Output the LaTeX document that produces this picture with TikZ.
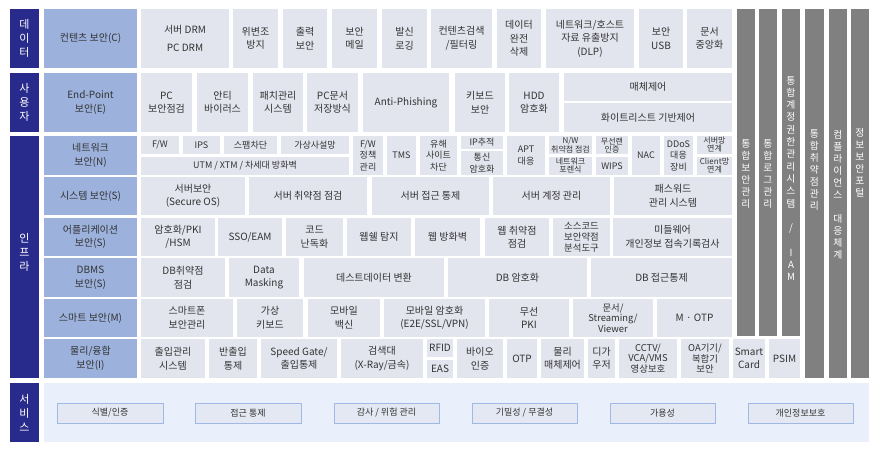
\documentclass[tikz,border=0pt]{standalone}
\usepackage{fontspec}
\setmainfont{Noto Sans CJK KR}
\definecolor{cNavy}{RGB}{41,43,140}
\definecolor{cCat}{RGB}{156,178,220}
\definecolor{cGray}{RGB}{227,229,238}
\definecolor{cCol}{RGB}{128,128,128}
\definecolor{cSvc}{RGB}{233,239,251}
\definecolor{cBtn}{RGB}{228,232,242}
\definecolor{cBtnLine}{RGB}{160,184,228}
\definecolor{cTxt}{RGB}{51,51,51}
\newcommand\fzA{\fontsize{10}{13.5}\selectfont}
\newcommand\fzN{\fontsize{9}{11.5}\selectfont}
\newcommand\fzT{\fontsize{8}{8}\selectfont}
\newcommand\fzC{\fontsize{9.4}{10.8}\selectfont}
\newcommand\fzS{\fontsize{11}{14}\selectfont}
\newcommand\fzV{\fontsize{9.8}{12}\selectfont}
\newcommand\fzB{\fontsize{9}{11}\selectfont}
\newcommand\bx[7]{\node[#1,minimum width={(#5)-(#3)},minimum height={(#6)-(#4)}] (#2) at ({((#3)+(#5))/2},{((#4)+(#6))/2}) {#7};}
\tikzset{
  base/.style={draw=none,inner sep=0pt,outer sep=0pt,align=center,text=cTxt,font=\fzA},
  gbox/.style={base,fill=cGray},
  nbox/.style={base,fill=cGray,font=\fzN},
  tbox/.style={base,fill=cGray,font=\fzT},
  catbox/.style={base,fill=cCat},
  sidebox/.style={base,fill=cNavy,text=white,font=\fzS},
  colbox/.style={base,fill=cCol},
  vlabel/.style={inner sep=0pt,align=center,text=white,font=\fzV},
  svcbg/.style={base,fill=cSvc},
  btn/.style={base,fill=cBtn,draw=cBtnLine,line width=0.8pt,font=\fzB},
}
\begin{document}
\begin{tikzpicture}[x=1pt,y=-1pt]
\useasboundingbox (0,0) rectangle (879,452);
\fill[white] (0,0) rectangle (879,452);
% side labels
\bx{sidebox}{sData}{10}{9}{39}{68}{데\\이\\터}
\bx{sidebox}{sUser}{10}{73}{39}{132}{사\\용\\자}
\bx{sidebox}{sInfra}{10}{136}{39}{378}{}
\node[vlabel,font=\fzS] (tInfra) at (24.5,252) {인\\프\\라};
\bx{sidebox}{sSvc}{10}{383}{39}{442}{서\\비\\스}
% categories
\bx{catbox}{cC}{44}{9}{137}{68}{컨텐츠 보안(C)}
\bx{catbox}{cE}{44}{73}{137}{132}{End-Point\\보안(E)}
\bx{catbox}{cN}{44}{136}{137}{175}{네트워크\\보안(N)}
\bx{catbox}{cS}{44}{177}{137}{215}{시스템 보안(S)}
\bx{catbox}{cA}{44}{218}{137}{256}{어플리케이션\\보안(S)}
\bx{catbox}{cD}{44}{258}{137}{297}{DBMS\\보안(S)}
\bx{catbox}{cM}{44}{299}{137}{337}{스마트 보안(M)}
\bx{catbox}{cI}{44}{339}{137}{378}{물리/융합\\보안(I)}
% row data
\bx{gbox}{d1}{141}{9}{229}{68}{서버 DRM\\[5pt]PC DRM}
\bx{gbox}{d2}{233}{9}{278}{68}{위변조\\방지}
\bx{gbox}{d3}{283}{9}{327}{68}{출력\\보안}
\bx{gbox}{d4}{332}{9}{377}{68}{보안\\메일}
\bx{gbox}{d5}{382}{9}{427}{68}{발신\\로깅}
\bx{gbox}{d6}{431}{9}{492}{68}{컨텐츠검색\\/필터링}
\bx{gbox}{d7}{497}{9}{541}{68}{데이터\\완전\\삭제}
\bx{gbox}{d8}{546}{9}{634}{68}{네트워크/호스트\\자료 유출방지\\(DLP)}
\bx{gbox}{d9}{639}{9}{683}{68}{보안\\USB}
\bx{gbox}{d10}{687}{9}{732}{68}{문서\\중앙화}
% row user
\bx{gbox}{u1}{141}{73}{192}{132}{PC\\보안점검}
\bx{gbox}{u2}{197}{73}{248}{132}{안티\\바이러스}
\bx{gbox}{u3}{253}{73}{303}{132}{패치관리\\시스템}
\bx{gbox}{u4}{307}{73}{358}{132}{PC문서\\저장방식}
\bx{gbox}{u5}{363}{73}{449}{132}{Anti-Phishing}
\bx{gbox}{u6}{455}{73}{505}{132}{키보드\\보안}
\bx{gbox}{u7}{509}{73}{559}{132}{HDD\\암호화}
\bx{gbox}{u8}{564}{73}{732}{101}{매체제어}
\bx{gbox}{u9}{564}{103}{732}{132}{화이트리스트 기반제어}
% row network
\bx{nbox}{n1}{141}{136}{179}{154}{F/W}
\bx{nbox}{n2}{183}{136}{220}{154}{IPS}
\bx{nbox}{n3}{224}{136}{277}{154}{스팸차단}
\bx{nbox}{n4}{281}{136}{349}{154}{가상사설망}
\bx{nbox}{n5}{141}{157}{349}{175}{UTM / XTM / 차세대 방화벽}
\bx{nbox}{n6}{353}{136}{383}{175}{F/W\\정책\\관리}
\bx{nbox}{n7}{387}{136}{416}{175}{TMS}
\bx{nbox}{n8}{420}{136}{457}{175}{유해\\사이트\\차단}
\bx{nbox}{n9}{461}{136}{503}{149}{IP추적}
\bx{nbox}{n10}{461}{151}{503}{175}{통신\\암호화}
\bx{nbox}{n11}{507}{136}{545}{175}{APT\\대응}
\bx{tbox}{n12}{549}{136}{592}{154}{N/W\\취약점 점검}
\bx{tbox}{n13}{549}{157}{592}{175}{네트워크\\포렌식}
\bx{tbox}{n14}{596}{136}{628}{154}{무선랜\\인증}
\bx{nbox}{n15}{596}{157}{628}{175}{WIPS}
\bx{nbox}{n16}{632}{136}{660}{175}{NAC}
\bx{nbox}{n17}{664}{136}{693}{175}{DDoS\\대응\\장비}
\bx{tbox}{n18}{697}{136}{732}{154}{서버망\\연계}
\bx{tbox}{n19}{697}{157}{732}{175}{Client망\\연계}
% row system
\bx{gbox}{s1}{141}{177}{245}{215}{서버보안\\(Secure OS)}
\bx{gbox}{s2}{249}{177}{367}{215}{서버 취약점 점검}
\bx{gbox}{s3}{372}{177}{489}{215}{서버 접근 통제}
\bx{gbox}{s4}{493}{177}{610}{215}{서버 계정 관리}
\bx{gbox}{s5}{614}{177}{732}{215}{패스워드\\관리 시스템}
% row application
\bx{gbox}{a1}{141}{218}{215}{256}{암호화/PKI\\/HSM}
\bx{gbox}{a2}{218}{218}{282}{256}{SSO/EAM}
\bx{gbox}{a3}{286}{218}{343}{256}{코드\\난독화}
\bx{gbox}{a4}{347}{218}{411}{256}{웹쉘 탐지}
\bx{gbox}{a5}{415}{218}{480}{256}{웹 방화벽}
\bx{gbox}{a6}{485}{218}{549}{256}{웹 취약점\\점검}
\bx{gbox,font=\fzC}{a7}{553}{218}{610}{256}{소스코드\\보안약점\\분석도구}
\bx{gbox}{a8}{613}{218}{732}{256}{미들웨어\\개인정보 접속기록검사}
% row dbms
\bx{gbox}{b1}{141}{258}{225}{297}{DB취약점\\점검}
\bx{gbox}{b2}{229}{258}{299}{297}{Data\\Masking}
\bx{gbox}{b3}{304}{258}{444}{297}{데스트데이터 변환}
\bx{gbox}{b4}{448}{258}{587}{297}{DB 암호화}
\bx{gbox}{b5}{591}{258}{732}{297}{DB 접근통제}
% row smart
\bx{gbox}{m1}{141}{299}{233}{337}{스마트폰\\보안관리}
\bx{gbox}{m2}{237}{299}{303}{337}{가상\\키보드}
\bx{gbox}{m3}{308}{299}{380}{337}{모바일\\백신}
\bx{gbox}{m4}{384}{299}{485}{337}{모바일 암호화\\(E2E/SSL/VPN)}
\bx{gbox}{m5}{489}{299}{569}{337}{무선\\PKI}
\bx{gbox,font=\fzC}{m6}{573}{299}{653}{337}{문서/\\Streaming/\\Viewer}
\bx{gbox}{m7}{657}{299}{732}{337}{M · OTP}
% row physical
\bx{gbox}{i1}{141}{339}{205}{378}{출입관리\\시스템}
\bx{gbox}{i2}{209}{339}{257}{378}{반출입\\통제}
\bx{gbox}{i3}{261}{339}{337}{378}{Speed Gate/\\출입통제}
\bx{gbox}{i4}{341}{339}{423}{378}{검색대\\(X-Ray/금속)}
\bx{gbox}{i5}{427}{339}{453}{357}{RFID}
\bx{gbox}{i6}{427}{360}{453}{378}{EAS}
\bx{gbox}{i7}{457}{339}{503}{378}{바이오\\인증}
\bx{gbox}{i8}{507}{339}{537}{378}{OTP}
\bx{gbox}{i9}{541}{339}{584}{378}{물리\\매체제어}
\bx{gbox}{i10}{588}{339}{615}{378}{디가\\우저}
\bx{gbox,font=\fzC}{i11}{619}{339}{677}{378}{CCTV/\\VCA/VMS\\영상보호}
\bx{gbox,font=\fzC}{i12}{681}{339}{729}{378}{OA기기/\\복합기\\보안}
\bx{gbox}{i13}{733}{339}{765}{378}{Smart\\Card}
\bx{gbox}{i14}{769}{339}{800}{378}{PSIM}
% dark columns
\bx{colbox}{k1}{737}{9}{755}{336}{}
\bx{colbox}{k2}{759}{9}{777}{336}{}
\bx{colbox}{k3}{782}{9}{800}{336}{}
\bx{colbox}{k4}{805}{9}{824}{378}{}
\bx{colbox}{k5}{829}{9}{847}{378}{}
\bx{colbox}{k6}{851}{9}{869}{378}{}
\node[vlabel] (t1) at (746,174) {통\\합\\보\\안\\관\\리};
\node[vlabel] (t2) at (768,174) {통\\합\\로\\그\\관\\리};
\node[vlabel,font=\fontsize{9.8}{12.3}\selectfont] (t3) at (791,178.5) {통\\합\\계\\정\\권\\한\\관\\리\\시\\스\\템\\~\\/\\~\\I\\A\\M};
\node[vlabel] (t4) at (814.5,170) {통\\합\\취\\약\\점\\관\\리};
\node[vlabel] (t5) at (838,195) {컴\\플\\라\\이\\언\\스\\~\\대\\응\\체\\계};
\node[vlabel] (t6) at (860,163) {정\\보\\보\\안\\포\\털};
% services
\bx{svcbg}{svc}{44}{383}{869}{442}{}
\bx{btn}{v1}{57}{403}{163}{423}{식별/인증}
\bx{btn}{v2}{195}{403}{301}{423}{접근 통제}
\bx{btn}{v3}{334}{403}{439}{423}{감사 / 위험 관리}
\bx{btn}{v4}{472}{403}{577}{423}{기밀성 / 무결성}
\bx{btn}{v5}{610}{403}{715}{423}{가용성}
\bx{btn}{v6}{748}{403}{853}{423}{개인정보보호}
\end{tikzpicture}
\end{document}
